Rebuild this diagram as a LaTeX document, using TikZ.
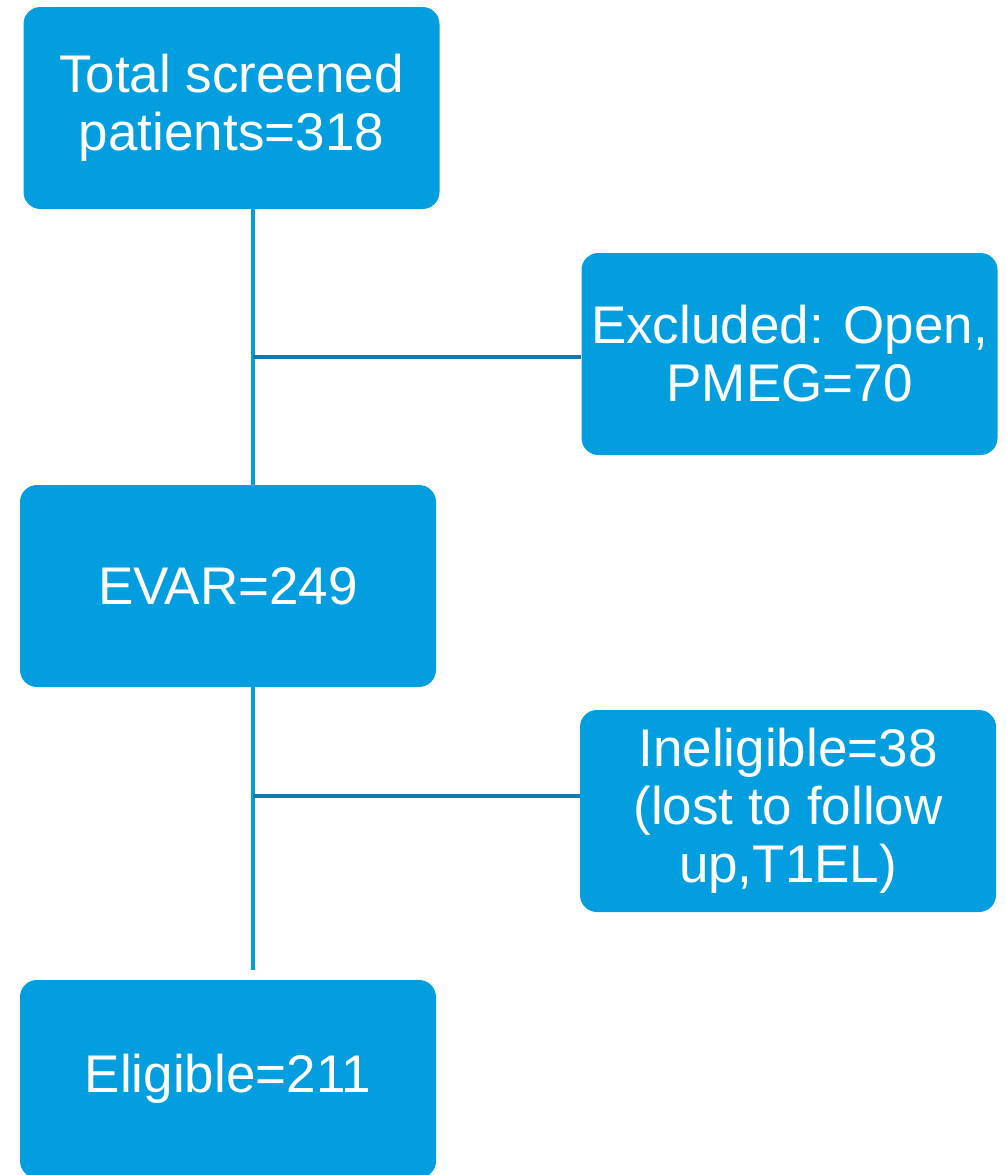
\documentclass[tikz,border=0pt]{standalone}
\usepackage{fontspec}
\setmainfont{Liberation Sans}
\definecolor{boxblue}{RGB}{2,158,223}
\definecolor{linedark}{RGB}{20,122,172}
\begin{document}
\begin{tikzpicture}[x=1pt,y=-1pt,
  box/.style={draw=none,fill=boxblue,rounded corners=17pt,minimum width=416pt,minimum height=202pt,inner sep=0pt,text=white,align=center,font=\fontsize{53}{58}\selectfont},
  vline/.style={draw=boxblue,line width=4pt},
  hline/.style={draw=linedark,line width=4pt}]
\useasboundingbox (0,0) rectangle (1005,1175);
\node[box] (a) at (231.5,108) {Total screened\\patients=318};
\node[box] (b) at (789.5,354) {Excluded: Open,\\PMEG=70};
\node[box] (c) at (228,586) {EVAR=249};
\node[box] (d) at (788,811) {Ineligible=38\\(lost to follow\\up,T1EL)};
\node[box,minimum height=198pt] (e) at (228,1079) {Eligible=211};
\coordinate (v1) at (253,357);
\coordinate (v2) at (253,796);
\coordinate (vend) at (253,970);
\draw[vline] (a.south -| v1) -- (c.north -| v1);
\draw[hline] (v1) -- (b.west |- v1);
\draw[vline] (c.south -| v2) -- (vend);
\draw[hline] (v2) -- (d.west |- v2);
\end{tikzpicture}
\end{document}
